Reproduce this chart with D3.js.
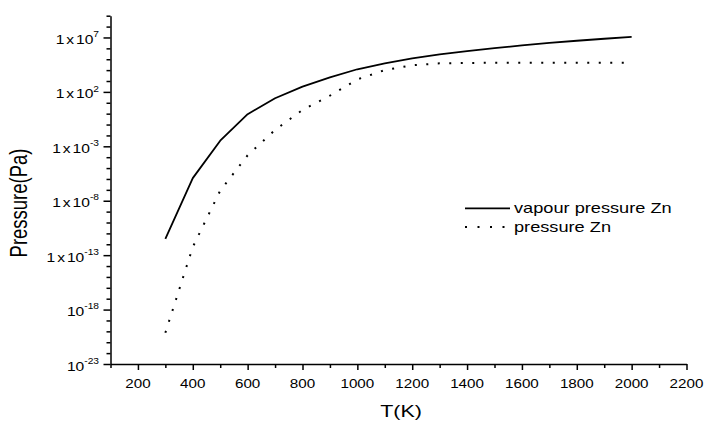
<!DOCTYPE html>
<html>
<head>
<meta charset="utf-8">
<script src="https://cdn.jsdelivr.net/npm/d3@7"></script>
<style>
  body { margin: 0; background: #fff; }
  text { font-family: "Liberation Sans", Arial, sans-serif; fill: #000; }
</style>
</head>
<body>
<svg id="chart" width="707" height="423"></svg>
<script>
// ---- data ----
const temperatures = [300, 400, 500, 600, 700, 800, 900, 1000, 1100, 1200, 1300, 1400, 1500, 1600, 1700, 1800, 1900, 2000];
const vapourPressureZn = [3.2e-12, 1.2e-6, 3.3e-3, 0.9, 26, 300, 2200, 1.2e4, 4.2e4, 1.2e5, 2.8e5, 5.6e5, 1.05e6, 1.85e6, 3.2e6, 5.0e6, 7.6e6, 1.15e7];
const pressureZn       = [7.4e-21, 5.6e-13, 8.5e-8, 1.5e-4, 0.032, 2.2, 45, 1400, 1.0e4, 2.8e4, 4.2e4, 4.6e4, 4.7e4, 4.7e4, 4.7e4, 4.7e4, 4.7e4, 4.7e4];
const seriesNames = ["vapour pressure Zn", "pressure Zn"];
const xMajorTicks = [200, 400, 600, 800, 1000, 1200, 1400, 1600, 1800, 2000, 2200];
const xMinorTicks = [100, 300, 500, 700, 900, 1100, 1300, 1500, 1700, 1900, 2100];
const yTickExponents = [-23, -18, -13, -8, -3, 2, 7];
const yTickPrefixes = ["", "", "1x", "1x", "1x", "1x", "1x"];
const xTitle = "T(K)";
const yTitle = "Pressure(Pa)";

// ---- scales ----
const svg = d3.select("#chart");
const x = d3.scaleLinear().domain([100, 2200]).range([110.5, 686.5]);
const y = d3.scaleLog().domain([1e-23, 1e9]).range([364, 15.7]);

const yMajor = yTickExponents.map(e => Math.pow(10, e));
const yMinor = d3.range(-22, 10).filter(e => !yTickExponents.includes(e)).map(e => Math.pow(10, e));

// ---- axes ----
function styleAxis(g) {
  g.selectAll("path, line").attr("stroke", "#000").attr("stroke-width", 1.5);
  g.selectAll("text").remove();
}
svg.append("g").attr("transform", "translate(0,364)")
  .call(d3.axisBottom(x).tickValues(xMajorTicks).tickSize(6).tickSizeOuter(0).tickFormat(""))
  .call(styleAxis);
svg.append("g").attr("transform", "translate(0,364)")
  .call(d3.axisBottom(x).tickValues(xMinorTicks).tickSize(4).tickSizeOuter(0).tickFormat(""))
  .call(g => g.select(".domain").remove()).call(styleAxis);
svg.append("g").attr("transform", "translate(110.5,0)")
  .call(d3.axisLeft(y).tickValues(yMajor).tickSize(7).tickSizeOuter(0).tickFormat(""))
  .call(styleAxis);
svg.append("g").attr("transform", "translate(110.5,0)")
  .call(d3.axisLeft(y).tickValues(yMinor).tickSize(4).tickSizeOuter(0).tickFormat(""))
  .call(g => g.select(".domain").remove()).call(styleAxis);

// x tick labels
svg.append("g").selectAll("g").data(xMajorTicks).join("g")
  .attr("transform", d => `translate(${x(d)},387.5) scale(1.17,1)`)
  .append("text").attr("text-anchor", "middle").attr("font-size", 13).text(d => d);

// y tick labels
const yl = svg.append("g").selectAll("g").data(yTickExponents).join("g")
  .attr("transform", d => `translate(99,${y(Math.pow(10, d)) + 6.6}) scale(1.2,1)`)
  .append("text").attr("text-anchor", "end").attr("font-size", 13);
yl.append("tspan").attr("letter-spacing", 1.6).text((d, i) => yTickPrefixes[i]);
yl.append("tspan").text("10");
yl.append("tspan").attr("font-size", 8.5).attr("dy", -7).text(d => d);

// axis titles
svg.append("g").attr("transform", "translate(401,417) scale(1.3,1)")
  .append("text").attr("text-anchor", "middle").attr("font-size", 16.5).text(xTitle);
svg.append("g").attr("transform", "translate(26.7,203) scale(1.26,1) rotate(-90)")
  .append("text").attr("text-anchor", "middle").attr("font-size", 18.5).text(yTitle);

// ---- series ----
const line = d3.line().x(d => x(d[0])).y(d => y(d[1]));
svg.append("path")
  .datum(temperatures.map((t, i) => [t, vapourPressureZn[i]]))
  .attr("d", line).attr("fill", "none").attr("stroke", "#000")
  .attr("stroke-width", 1.8).attr("stroke-linejoin", "round");
svg.append("path")
  .datum(temperatures.map((t, i) => [t, pressureZn[i]]))
  .attr("d", line).attr("fill", "none").attr("stroke", "#000")
  .attr("stroke-width", 2).attr("stroke-dasharray", "2,9.5");

// ---- legend ----
const legend = svg.append("g");
legend.append("line").attr("x1", 465).attr("x2", 510).attr("y1", 208.3).attr("y2", 208.3)
  .attr("stroke", "#000").attr("stroke-width", 1.8);
legend.append("line").attr("x1", 465).attr("x2", 510).attr("y1", 227).attr("y2", 227)
  .attr("stroke", "#000").attr("stroke-width", 2).attr("stroke-dasharray", "2,10.5");
legend.selectAll("g.lt").data(seriesNames).join("g").attr("class", "lt")
  .attr("transform", (d, i) => `translate(514,${213 + i * 18.5}) scale(1.3,1)`)
  .append("text").attr("font-size", 14).text(d => d);
</script>
</body>
</html>
